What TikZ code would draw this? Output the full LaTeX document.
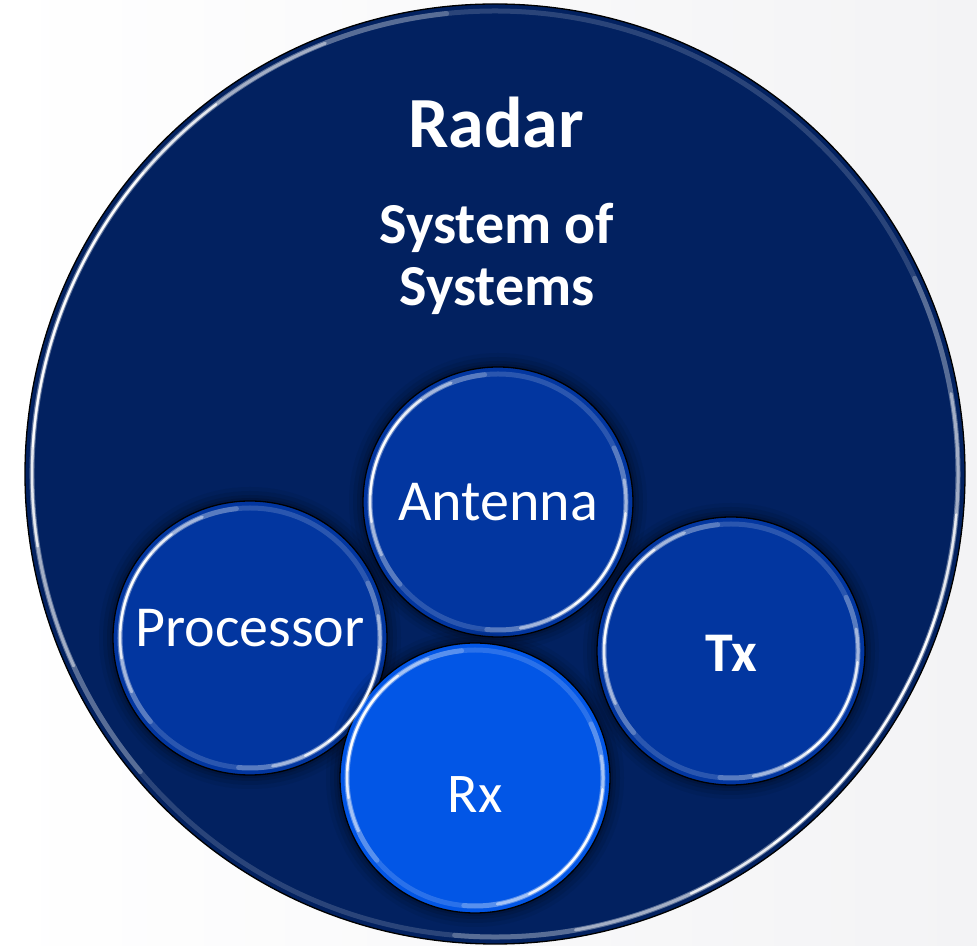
\documentclass[tikz,border=0pt]{standalone}
\usepackage{fontspec}
\setmainfont{Carlito}
\usetikzlibrary{calc}
\definecolor{navy}{HTML}{022160}
\definecolor{disc}{HTML}{0236A0}
\definecolor{discbright}{HTML}{0256E6}
\definecolor{paperright}{HTML}{F3F3F5}
\tikzset{
  bubble/.style={circle, draw=black, line width=1.3pt, inner sep=0pt,
    minimum size=#1, text=white, fill=disc},
  glint/.style={white, line cap=round},
  label/.style={text=white, font=\fontsize{58}{62}\selectfont},
}
% soft dark halo under a disc
\newcommand\halo[2]{%
  \foreach \w/\o in {14/.06, 10/.08, 6/.10, 3/.12}
    \fill[black, opacity=\o] (#1) circle[radius=#2pt+\w pt];
}
% one tapered glint: arcs of shrinking span and rising strength
\newcommand\glintarc[4]{% node, radius, middle angle, half span
  \foreach \f/\o/\lw in {1/.22/5, .75/.45/3, .5/.75/2.2, .3/.95/1.8}
    \draw[glint, opacity=\o, line width=\lw pt]
      ($(#1.center)+(#3-\f*#4:#2pt-7pt)$)
      arc[start angle=#3-\f*#4, end angle=#3+\f*#4, radius=#2pt-7pt];
}
% glossy rim: faint ring plus bright glints at upper left and lower right
\newcommand\rimlight[2]{%
  \draw[glint, opacity=.16, line width=5pt] (#1.center) circle[radius=#2pt-7pt];
  \glintarc{#1}{#2}{158}{62}
  \glintarc{#1}{#2}{-35}{60}
}
\begin{document}
\begin{tikzpicture}[x=1pt, y=1pt]
  \useasboundingbox (0,0) rectangle (977,945);
  \fill[left color=white, right color=paperright] (0,0) rectangle (977,945);

  % outer system
  \node[bubble=940pt, fill=navy] (radar) at (495,471) {};
  \rimlight{radar}{470}

  \node[text=white, font=\bfseries\fontsize{72}{80}\selectfont] (title) at (496,822) {Radar};
  \node[text=white, font=\bfseries\fontsize{58}{62}\selectfont, align=center] (sos) at (497,686) {System of\\Systems};

  % sub-systems
  \coordinate (cant) at (498,443);
  \coordinate (cproc) at (250,307);
  \coordinate (ctx) at (731,294);
  \coordinate (crx) at (475,167);
  \halo{cant}{135}
  \halo{cproc}{137}
  \halo{ctx}{134}
  \node[bubble=270pt] (ant) at (cant) {};
  \node[bubble=274pt] (proc) at (cproc) {};
  \node[bubble=268pt] (tx) at (ctx) {};
  \halo{crx}{135}
  \node[bubble=270pt, fill=discbright] (rx) at (crx) {};
  \rimlight{ant}{135}
  \rimlight{proc}{137}
  \rimlight{tx}{134}
  \rimlight{rx}{135}

  \node[label] at (ant) {Antenna};
  \node[label] at ([yshift=10pt]proc.center) {Processor};
  \node[label, font=\bfseries\fontsize{56}{60}\selectfont] at ([yshift=-2pt]tx.center) {Tx};
  \node[label, font=\fontsize{56}{60}\selectfont] at ([yshift=-17pt]rx.center) {Rx};
\end{tikzpicture}
\end{document}
